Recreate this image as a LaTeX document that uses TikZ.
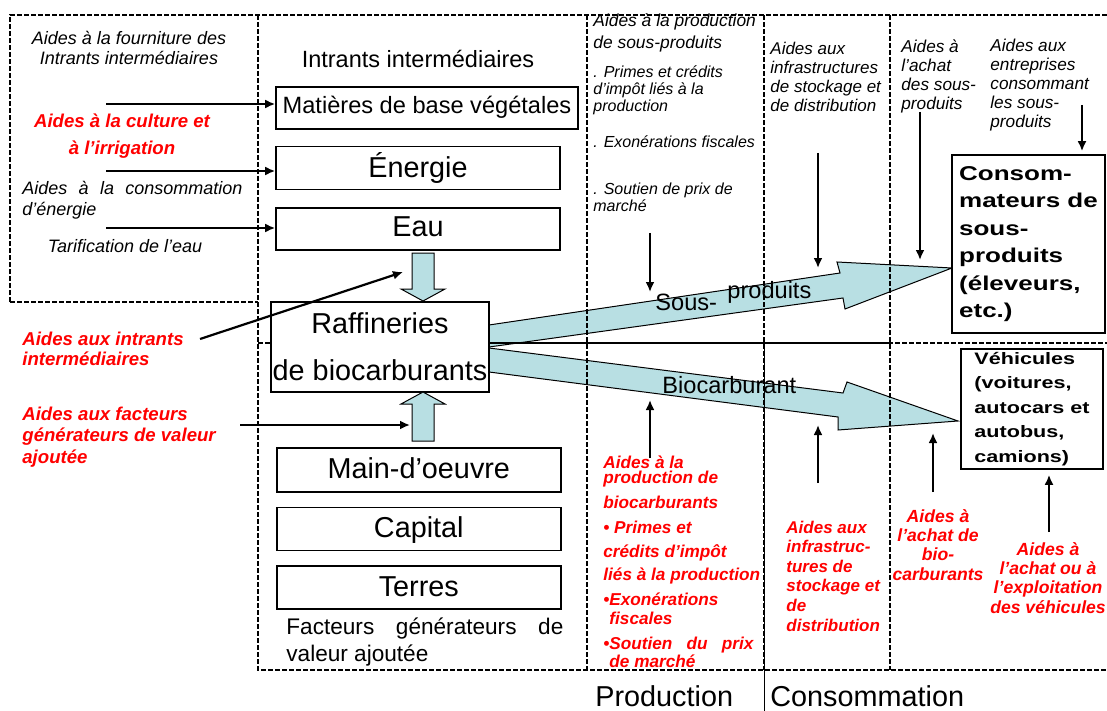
\documentclass[tikz,border=0pt]{standalone}
\usepackage{fontspec}
\setmainfont{Liberation Sans}
\newfontfamily\widesans{Liberation Sans}[FakeStretch=1.3]
\usetikzlibrary{arrows.meta, positioning}
\definecolor{flowblue}{RGB}{184,223,227}
\tikzstyle{frame} = [line width=1pt, dash pattern=on 2.3pt off 1.2pt]
\tikzstyle{inbox} = [rectangle, draw, line width=0.8pt, fill=white, inner sep=0pt, minimum width=142pt, minimum height=21.5pt, text height=0.9em, text depth=0pt, font=\fontsize{14.4}{17}\selectfont]
\tikzstyle{endbox} = [rectangle, draw, line width=0.8pt, fill=white, inner sep=0pt, align=left]
\tikzstyle{aid} = [inner sep=0pt, align=left, font=\fontsize{8.6}{9.5}\selectfont\itshape]
\tikzstyle{redaid} = [inner sep=0pt, align=left, text=red, font=\fontsize{8.6}{9.8}\selectfont\bfseries\itshape]
\tikzstyle{label} = [inner sep=0pt, anchor=base west, font=\fontsize{11.8}{14}\selectfont]
\tikzstyle{flow} = [draw, fill=flowblue, line width=0.5pt]
\tikzstyle{arrow} = [line width=1.1pt, ->, >={Latex[length=5pt,width=4.5pt]}]

\begin{document}
\begin{tikzpicture}[x=0.5pt, y=-0.5pt]
    \useasboundingbox (0,0) rectangle (1107,711);

    % flows out of the refineries
    \filldraw [flow] (489,325) -- (840,273) -- (837,262) -- (952,268) -- (845,309) -- (843,298) -- (489,347) -- cycle;
    \filldraw [flow] (489,348) -- (843,393) -- (847,382) -- (958,421) -- (838,430) -- (838,417) -- (489,372) -- cycle;

    % dashed frame
    \draw [frame] (10,302) -- (10,15) -- (1107,15);
    \draw [frame] (10,302) -- (258,302);
    \draw [frame] (258,15) -- (258,670) -- (1107,670);
    \draw [frame] (587,15) -- (587,670);
    \draw [frame] (764,15) -- (764,670);
    \draw [frame] (890,15) -- (890,670);
    \draw [frame] (258,343) -- (1107,343);
    \draw [line width=1pt] (489,343) -- (890,343);
    \draw [line width=0.5pt] (764,343) -- (764,711);

    % inputs and factors
    \node (matieres) [inbox, minimum width=151pt, minimum height=21pt, text height=0.6em, font=\fontsize{11.8}{14}\selectfont] at (427,108) {Matières de base végétales};
    \node (energie) [inbox, below=8pt of matieres.south west, anchor=north west, text height=0.94em] {Énergie};
    \node (eau) [inbox, below=8.5pt of energie.south west, anchor=north west, minimum height=21pt, text height=0.76em] {Eau};
    \node (raff) [rectangle, draw, line width=0.6pt, fill=white, minimum width=109pt, minimum height=45pt, inner sep=0pt, align=center, font=\fontsize{14.4}{23.5}\selectfont] at (380,347) {Raffineries\\de biocarburants};
    \node (main) [inbox, minimum height=22pt, anchor=north west] at (276,447) {Main-d’oeuvre};
    \node (capital) [inbox, below=7pt of main.south west, anchor=north west] {Capital};
    \node (terres) [inbox, below=7pt of capital.south west, anchor=north west] {Terres};

    \filldraw [flow] (412,253) -- (434,253) -- (434,289) -- (445,289) -- (423,301) -- (401,289) -- (412,289) -- cycle;
    \filldraw [flow] (412,441) -- (434,441) -- (434,404) -- (445,404) -- (423,392) -- (401,404) -- (412,404) -- cycle;

    % consumers
    \node (consom) [endbox, minimum width=76.5pt, minimum height=89pt, font=\widesans\bfseries\fontsize{10}{13.7}\selectfont] at (1028.5,244) {Consom-\\mateurs de\\sous-\\produits\\(éleveurs,\\etc.)};
    \node (vehic) [endbox, minimum width=71pt, minimum height=60pt, font=\widesans\bfseries\fontsize{8.3}{12.25}\selectfont] at (1032,409) {Véhicules\\(voitures,\\autocars et\\autobus,\\camions)};

    % left column (base = last line)
    \node (fourn) [aid, align=center, anchor=base, font=\fontsize{9}{10}\selectfont\itshape] at (129,65) {Aides à la fourniture des\\Intrants intermédiaires};
    \node (culture) [redaid, align=center, anchor=base, font=\fontsize{9.3}{13.5}\selectfont\bfseries\itshape] at (122,155) {Aides à la culture et\\à l’irrigation};
    \node (conso) [aid, anchor=base west, font=\fontsize{9}{10}\selectfont\itshape] at (22,215) {\makebox[110pt][s]{Aides à la consommation}\\d’énergie};
    \node (tarif) [aid, anchor=base, font=\fontsize{9}{10}\selectfont\itshape] at (125,252) {Tarification de l’eau};
    \node (aidintr) [redaid, anchor=base west, font=\fontsize{9.3}{10}\selectfont\bfseries\itshape] at (22,365) {Aides aux intrants\\intermédiaires};
    \node (aidfact) [redaid, anchor=base west, font=\fontsize{9.3}{10.75}\selectfont\bfseries\itshape] at (22,463) {Aides aux facteurs\\générateurs de valeur\\ajoutée};

    % titles
    \node (titintr) [inner sep=0pt, anchor=base, font=\fontsize{11.75}{14}\selectfont] at (418,68) {Intrants intermédiaires};
    \node (titfact) [inner sep=0pt, anchor=base west, align=left, font=\fontsize{11.3}{13.5}\selectfont] at (286,661) {\makebox[138.5pt][s]{Facteurs générateurs de}\\valeur ajoutée};

    % upper aids
    \node (prodsp) [aid, anchor=base west, font=\fontsize{8.7}{11}\selectfont\itshape] at (593,49) {Aides à la production\\de sous-produits};
    \node (primes) [aid, anchor=base west, font=\fontsize{8}{8.6}\selectfont\itshape] at (593,112) {. Primes et crédits\\d’impôt liés à la\\production};
    \node (exon) [aid, anchor=base west, font=\fontsize{8}{8.25}\selectfont\itshape] at (593,148) {. Exonérations fiscales};
    \node (soutien) [aid, anchor=base west, font=\fontsize{8}{8.5}\selectfont\itshape] at (593,212) {. Soutien de prix de\\marché};
    \node (infra) [aid, anchor=base west, font=\fontsize{8.5}{9.5}\selectfont\itshape] at (770,112) {Aides aux\\infrastructures\\de stockage et\\de distribution};
    \node (achatsp) [aid, anchor=base west] at (901,110) {Aides à\\l’achat\\des sous-\\produits};
    \node (entrep) [aid, anchor=base west] at (990,128) {Aides aux\\entreprises\\consommant\\les sous-\\produits};

    % lower aids
    \node (aidbio) [redaid, anchor=base west, font=\fontsize{8.6}{12}\selectfont\bfseries\itshape] at (603,667) {Aides à la\\[-4.5pt]production de\\[0.5pt]biocarburants\\[0.5pt]• Primes et\\crédits d’impôt\\[-0.5pt]liés à la production\\[0.5pt]•Exonérations\\[-2.5pt]\phantom{•}fiscales\\[0.5pt]\makebox[75pt][s]{•Soutien du prix}\\[-3pt]\phantom{•}de marché};
    \node (aidinfra) [redaid, anchor=base west, font=\fontsize{8.5}{9.8}\selectfont\bfseries\itshape] at (786,631) {Aides aux\\infrastruc-\\tures de\\stockage et\\de\\distribution};
    \node (aidachat) [redaid, align=center, anchor=base, font=\fontsize{8.8}{9.65}\selectfont\bfseries\itshape] at (938,580) {Aides à\\l’achat de\\bio-\\carburants};
    \node (aidvehic) [redaid, align=center, anchor=base, font=\fontsize{8.8}{9.65}\selectfont\bfseries\itshape] at (1048,613) {Aides à\\l’achat ou à\\l’exploitation\\des véhicules};

    % flow labels
    \node (sous) [label] at (655,310) {Sous-};
    \node (produits) [label] at (727,298) {produits};
    \node (biocarb) [label] at (662,393) {Biocarburant};
    \node (prod) [label, font=\fontsize{14.4}{17}\selectfont] at (595,706) {Production};
    \node (cons) [label, font=\fontsize{14.4}{17}\selectfont] at (770,706) {Consommation};

    % aid arrows
    \coordinate (fromcult) at (106,104);
    \coordinate (fromener) at (106,171);
    \coordinate (fromeau) at (106,228);
    \coordinate (fromintr) at (200,339);
    \coordinate (tointr) at (403,272);
    \coordinate (fromfact) at (240,425);
    \coordinate (tofact) at (410,425);
    \coordinate (fromsp) at (650,233);
    \coordinate (tosp) at (650,292);
    \coordinate (frominfra) at (818,153);
    \coordinate (toinfra) at (818,268);
    \coordinate (fromachat) at (920,112);
    \coordinate (toachat) at (920,260);
    \coordinate (froment) at (1082,105);
    \coordinate (frombio) at (650,458);
    \coordinate (tobio) at (650,400);
    \coordinate (fromstock) at (818,483);
    \coordinate (tostock) at (818,425);
    \coordinate (fromcarb) at (933,492);
    \coordinate (tocarb) at (933,433);
    \coordinate (fromveh) at (1049,532);

    \draw [arrow] (fromcult) -- (fromcult -| matieres.west);
    \draw [arrow] (fromener) -- (fromener -| energie.west);
    \draw [arrow] (fromeau) -- (fromeau -| eau.west);
    \draw [arrow] (fromintr) -- (tointr);
    \draw [arrow] (fromfact) -- (tofact);
    \draw [arrow] (fromsp) -- (tosp);
    \draw [arrow] (frominfra) -- (toinfra);
    \draw [arrow] (fromachat) -- (toachat);
    \draw [arrow, shorten >=1.5pt] (froment) -- (froment |- consom.north);
    \draw [arrow] (frombio) -- (tobio);
    \draw [arrow] (fromstock) -- (tostock);
    \draw [arrow] (fromcarb) -- (tocarb);
    \draw [arrow, shorten >=2.5pt] (fromveh) -- (fromveh |- vehic.south);
\end{tikzpicture}
\end{document}
